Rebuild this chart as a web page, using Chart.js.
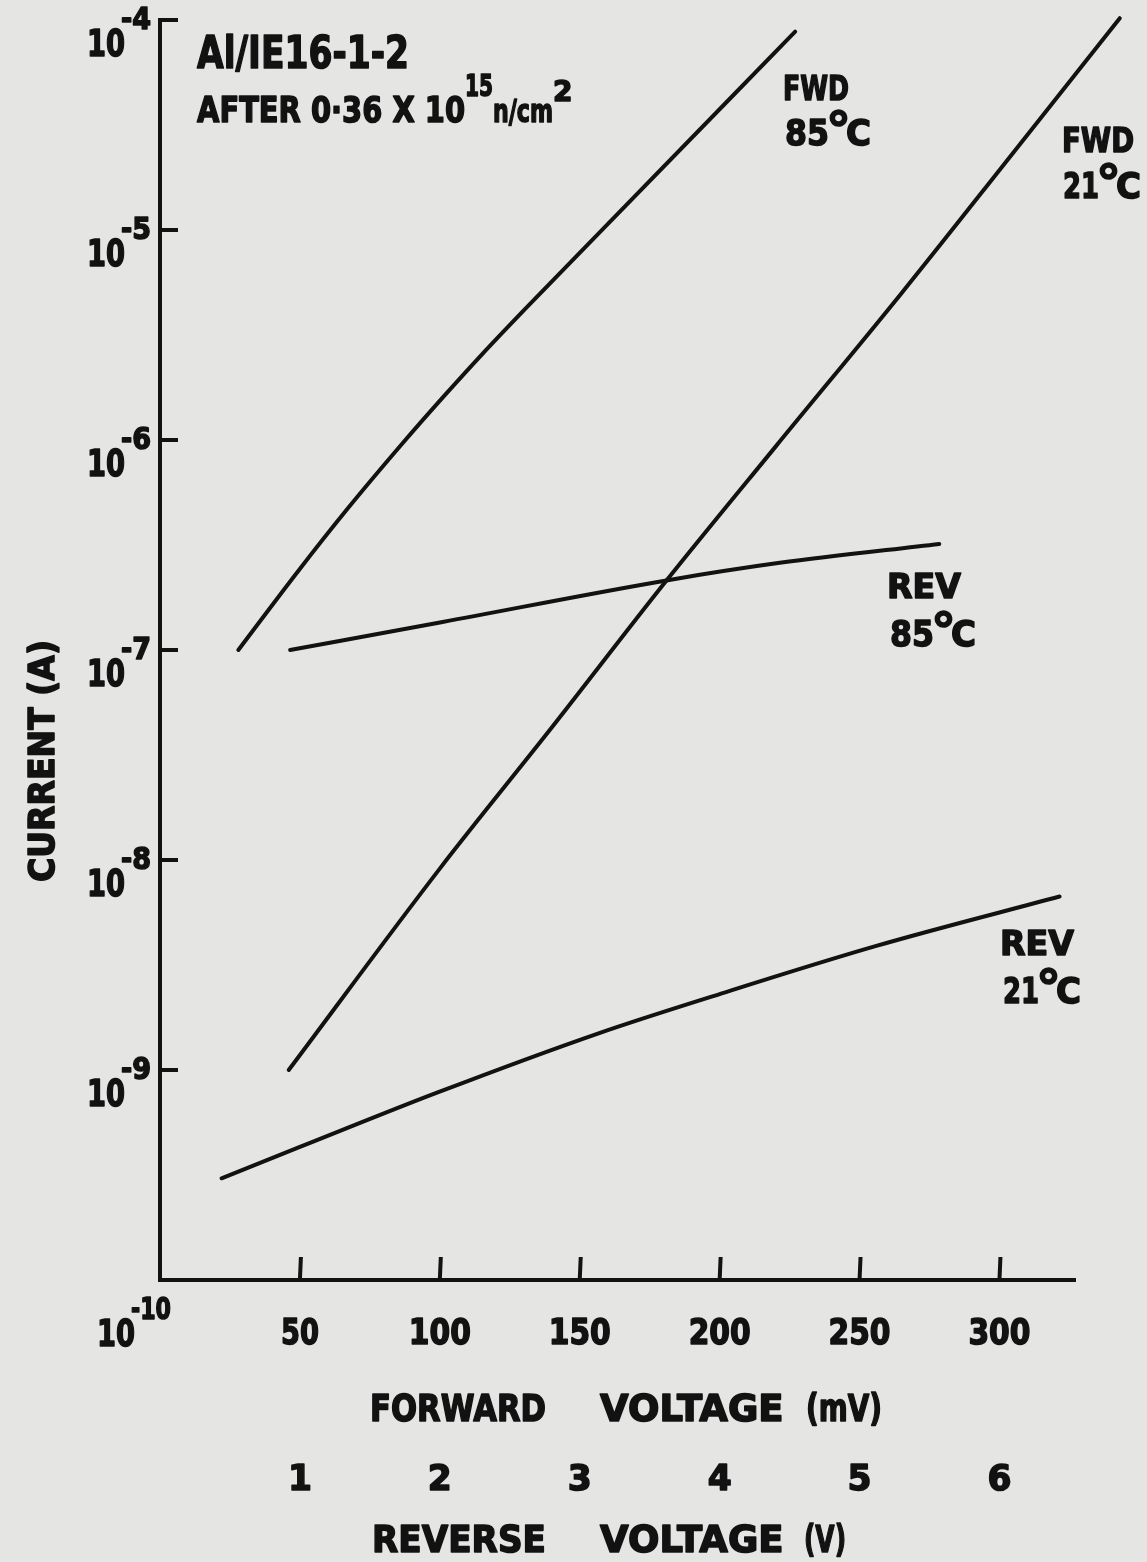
<!DOCTYPE html>
<html>
<head>
<meta charset="utf-8">
<script src="https://cdn.jsdelivr.net/npm/chart.js@4.4.1/dist/chart.umd.min.js"></script>
<style>
  body { margin: 0; background: #e5e5e3; }
  canvas { display: block; }
</style>
</head>
<body>
<canvas id="ivChart" width="1147" height="1562"></canvas>
<script>
// forward curves, voltage in mV
var fwd85V = [28, 49, 67, 87, 101, 115, 130, 164, 227];
var fwd85I = [1.0e-7, 2.34e-7, 4.7e-7, 9.75e-7, 1.59e-6, 2.55e-6, 4.14e-6, 1.21e-5, 8.8e-5];
var fwd21V = [46, 100, 140, 181, 220, 265, 305, 343];
var fwd21I = [1.0e-9, 9.1e-9, 4.27e-8, 2.14e-7, 9.3e-7, 5.0e-6, 2.34e-5, 1.02e-4];

// reverse curves, voltage in V
var rev85V = [0.93, 2.02, 3.63, 4.43, 5.57];
var rev85I = [1.0e-7, 1.36e-7, 2.15e-7, 2.6e-7, 3.2e-7];
var rev21V = [0.44, 1.0, 1.98, 3.14, 4.0, 5.12, 6.43];
var rev21I = [3.05e-10, 4.3e-10, 7.8e-10, 1.5e-9, 2.3e-9, 3.9e-9, 6.7e-9];

// axis ticks
var yTicks = [1e-4, 1e-5, 1e-6, 1e-7, 1e-8, 1e-9, 1e-10];
var yExp = ['-4', '-5', '-6', '-7', '-8', '-9', '-10'];
var fwdTicks = [50, 100, 150, 200, 250, 300];
var revTicks = [1, 2, 3, 4, 5, 6];

var INK = '#121212';
var FONT = '"DejaVu Sans", sans-serif';

var pts = (xs, ys) => xs.map((v, i) => ({x: v, y: ys[i]}));

// bold text, stroked a little to look like the heavy stencil lettering
var txt = (ctx, s, x, y, size, align, maxW) => {
  ctx.font = 'bold ' + size + 'px ' + FONT;
  ctx.textAlign = align || 'left';
  ctx.lineWidth = 1.6;
  ctx.lineJoin = 'round';
  if (maxW) {
    ctx.fillText(s, x, y, maxW);
    ctx.strokeText(s, x, y, maxW);
  } else {
    ctx.fillText(s, x, y);
    ctx.strokeText(s, x, y);
  }
  var w = ctx.measureText(s).width;
  return maxW ? Math.min(w, maxW) : w;
};

var seg = (ctx, x1, y1, x2, y2) => {
  ctx.lineWidth = 4;
  ctx.beginPath();
  ctx.moveTo(x1, y1);
  ctx.lineTo(x2, y2);
  ctx.stroke();
};

// "85°C" label with a big raised ring
var tempLabel = (ctx, num, x, base, numW) => {
  var w = txt(ctx, num, x, base, 36, 'left', numW);
  var w2 = txt(ctx, '\u00b0', x + w - 3, base + 2, 50, 'left');
  txt(ctx, 'C', x + w + w2 - 8, base, 36, 'left', 25);
};

var paperText = {
  id: 'paperText',
  afterDraw: (chart) => {
    var ctx = chart.ctx, ca = chart.chartArea;
    var xs = chart.scales.x, xr = chart.scales.xRev, ys = chart.scales.y;
    ctx.save();
    ctx.fillStyle = INK;
    ctx.strokeStyle = INK;
    ctx.textBaseline = 'alphabetic';

    // y ticks (inside) and labels
    yTicks.forEach((v, i) => {
      var py = ys.getPixelForValue(v);
      if (i < yTicks.length - 1) seg(ctx, ca.left, py, ca.left + 18, py);
      var last = i === yTicks.length - 1;
      var dx = last ? 10 : 0, dy = last ? 30 : 0;
      txt(ctx, '10', 125 + dx, py + 36 + dy, 38, 'right', 38);
      txt(ctx, yExp[i], 121 + dx, py + 9 + dy, 30, 'left', last ? 40 : 30);
    });

    // x ticks (inside) and labels
    fwdTicks.forEach((v) => {
      var px = xs.getPixelForValue(v);
      seg(ctx, px, ca.bottom, px + 1, ca.bottom - 23);
      txt(ctx, String(v), px, 1344, 36, 'center', v < 100 ? 38 : 62);
    });
    revTicks.forEach((v) => {
      var px = xr.getPixelForValue(v);
      txt(ctx, String(v), px, 1490, 36, 'center', 24);
    });

    txt(ctx, 'FORWARD', 370, 1421, 37, 'left', 176);
    txt(ctx, 'VOLTAGE', 600, 1421, 37, 'left', 196);
    txt(ctx, '(mV)', 806, 1421, 37, 'left', 76);
    txt(ctx, 'REVERSE', 372, 1552, 37, 'left', 174);
    txt(ctx, 'VOLTAGE', 600, 1552, 37, 'left', 196);
    txt(ctx, '(V)', 804, 1552, 37, 'left', 42);

    ctx.save();
    ctx.translate(54, 761);
    ctx.rotate(-Math.PI / 2);
    txt(ctx, 'CURRENT (A)', 0, 0, 36, 'center', 242);
    ctx.restore();

    // header
    txt(ctx, 'Al/IE16-1-2', 197, 68, 44, 'left', 212);
    var w = txt(ctx, 'AFTER 0\u00b736 X 10', 197, 122, 36, 'left', 268);
    txt(ctx, '15', 197 + w, 96, 30, 'left', 28);
    var w2 = txt(ctx, 'n/cm', 197 + w + 28, 122, 32, 'left', 60);
    txt(ctx, '2', 197 + w + 28 + w2, 101, 28, 'left');

    // curve labels
    txt(ctx, 'FWD', 783, 100, 34, 'left', 66);
    tempLabel(ctx, '85', 785, 145, 44);
    txt(ctx, 'FWD', 1062, 152, 34, 'left', 72);
    tempLabel(ctx, '21', 1063, 198, 36);
    txt(ctx, 'REV', 887, 598, 34, 'left', 74);
    tempLabel(ctx, '85', 890, 646, 44);
    txt(ctx, 'REV', 1000, 955, 34, 'left', 74);
    tempLabel(ctx, '21', 1003, 1003, 36);

    ctx.restore();
  }
};

var lineSet = (label, data, axis) => ({
  label: label,
  data: data,
  xAxisID: axis,
  yAxisID: 'y',
  borderColor: INK,
  borderWidth: 4,
  borderCapStyle: 'round',
  pointRadius: 0,
  fill: false,
  cubicInterpolationMode: 'monotone',
  clip: false
});

var ctx1 = document.getElementById('ivChart').getContext('2d');
var ivChart = new Chart(ctx1, {
  type: 'line',
  data: {
    datasets: [
      lineSet('FWD 85°C', pts(fwd85V, fwd85I), 'x'),
      lineSet('FWD 21°C', pts(fwd21V, fwd21I), 'x'),
      lineSet('REV 85°C', pts(rev85V, rev85I), 'xRev'),
      lineSet('REV 21°C', pts(rev21V, rev21I), 'xRev')
    ]
  },
  options: {
    responsive: false,
    animation: false,
    events: [],
    layout: { padding: { left: 160, top: 20, right: 72, bottom: 282 } },
    plugins: { legend: { display: false }, tooltip: { enabled: false } },
    scales: {
      x: {
        type: 'linear', position: 'bottom', min: 0, max: 327,
        grid: { display: false, drawTicks: false },
        ticks: { display: false },
        border: { display: true, color: INK, width: 4 }
      },
      xRev: {
        type: 'linear', position: 'bottom', min: 0, max: 6.54,
        display: false
      },
      y: {
        type: 'logarithmic', position: 'left', min: 1e-10, max: 1e-4,
        grid: { display: false, drawTicks: false },
        ticks: { display: false },
        border: { display: true, color: INK, width: 4 }
      }
    }
  },
  plugins: [paperText]
});
</script>
</body>
</html>
